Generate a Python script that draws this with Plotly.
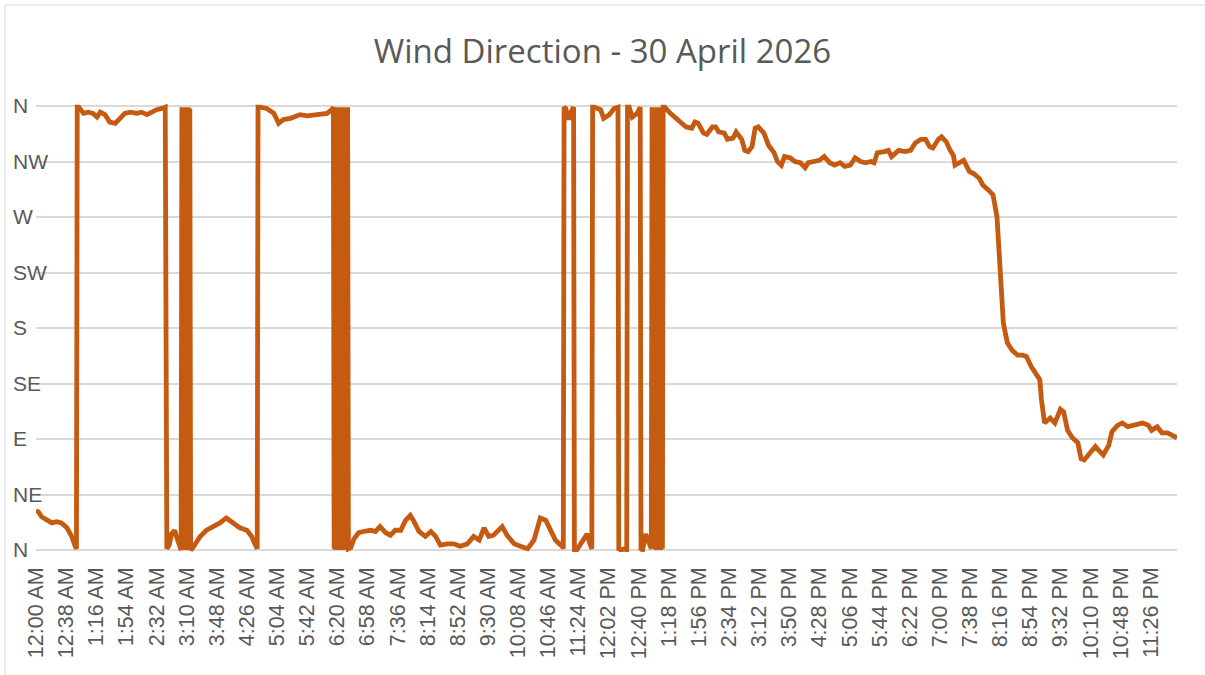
import plotly.graph_objects as go

# Time of each reading, minutes after midnight (30 April 2026)
minute_of_day = [
    0, 3, 7, 10, 14, 20, 26, 32, 39, 45, 49, 51,
    52, 54, 60, 66, 72, 77, 81, 87, 93, 100, 106, 112, 119, 127, 133, 140, 146, 152, 159, 163,
    165, 168, 171, 175, 178, 181, 183,
    184, 185, 186, 187, 188, 189, 190, 191, 192, 193, 194, 195,
    198, 201, 207, 215, 224, 232, 240, 249, 257, 266, 272, 276, 279,
    280, 283, 291, 300, 306, 312, 321, 333, 342, 354, 367, 373, 375,
    376, 377, 378, 379, 380, 381, 382, 383, 384, 385, 386, 387, 388, 389, 390, 391, 392, 393, 394,
    397, 401, 407, 413, 422, 428, 434, 441, 447, 453, 460, 466, 472, 476, 483, 491, 498, 504,
    510, 519, 527, 535, 544, 552, 559, 565, 571, 577, 588, 594, 603, 611, 620, 628, 636, 643,
    649, 655, 660, 664, 665,
    666, 668, 672, 676, 678, 679, 682, 689, 695, 698, 701,
    702, 704, 712, 716, 723, 729, 734, 735, 738, 742, 745,
    746, 748, 752, 758, 762, 763, 765, 769, 773, 776,
    777, 778, 779, 780, 781, 782, 783, 784, 785, 786, 787, 788, 789, 790, 791,
    793, 800, 807, 814, 820, 827, 831, 835, 842, 846, 853, 857, 861, 868, 872, 879, 883, 890,
    894, 898, 903, 907, 911, 918, 924, 931, 935, 940, 944, 951, 957, 964, 970, 974, 981, 988,
    994, 1001, 1007, 1014, 1020, 1027, 1033, 1040, 1046, 1053, 1057, 1061, 1070, 1075, 1079,
    1088, 1096, 1103, 1109, 1116, 1122, 1127, 1131, 1138, 1142, 1148, 1153, 1157, 1159, 1166,
    1170, 1177, 1183, 1190, 1194, 1201, 1207, 1212, 1214, 1216, 1218, 1220, 1225, 1231, 1238,
    1244, 1249, 1255, 1262, 1266, 1268, 1270, 1272, 1279, 1285, 1292, 1296, 1301, 1307, 1314,
    1318, 1322, 1329, 1336, 1340, 1346, 1353, 1357, 1364, 1370, 1377, 1383, 1390, 1396, 1403,
    1407, 1414, 1420, 1427, 1433, 1437, 1439,
]

# Wind direction in degrees (0 = N, 90 = E, 180 = S, 270 = W, 360 = N)
direction_deg = [
    32, 31, 27, 26, 24, 22, 23, 22, 18, 11, 4, 1,
    359, 359, 354, 355, 354, 351, 355, 353, 347, 346, 350, 354, 355, 354, 355, 353, 355, 357, 358, 359,
    1, 4, 13, 16, 9, 2, 0,
    359, 1, 358, 2, 359, 0, 357, 1, 359, 2, 358, 0,
    2, 5, 11, 16, 19, 22, 26, 22, 18, 16, 11, 5, 1,
    359, 359, 358, 354, 346, 349, 350, 353, 352, 353, 354, 357, 359,
    1, 359, 0, 358, 2, 359, 1, 357, 0, 359, 2, 358, 1, 359, 0, 358, 1, 359, 1,
    2, 9, 14, 15, 16, 15, 19, 14, 12, 16, 16, 24, 28, 24, 15, 11, 15, 11,
    4, 5, 5, 3, 5, 11, 8, 18, 11, 12, 19, 12, 5, 3, 1, 8, 26, 24,
    15, 8, 5, 3, 1,
    359, 358, 349, 357, 359, 0, 0, 7, 13, 6, 1,
    359, 359, 357, 350, 353, 358, 359, 1, 0, 1, 0,
    359, 359, 351, 354, 359, 1, 0, 13, 5, 1,
    359, 1, 358, 2, 359, 0, 357, 1, 359, 2, 358, 0, 359, 1, 359,
    359, 354, 350, 347, 343, 342, 347, 346, 338, 337, 343, 343, 339, 338, 333, 334, 339, 333,
    324, 323, 327, 342, 343, 338, 328, 322, 315, 312, 319, 318, 315, 314, 310, 314, 315, 316,
    319, 314, 312, 314, 311, 312, 318, 315, 314, 315, 314, 322, 323, 324, 319,
    324, 323, 324, 330, 333, 333, 327, 326, 333, 335, 331, 324, 320, 312, 315,
    316, 307, 305, 301, 296, 292, 288, 270, 251, 230, 211, 184, 168, 162, 158,
    158, 157, 149, 142, 138, 122, 111, 103, 107, 103, 114, 112, 97, 91, 87,
    74, 73, 78, 84, 81, 77, 85, 96, 101, 103, 100, 101, 103, 103, 101,
    97, 100, 95, 95, 93, 91, 91,
]

# Axis ticks
x_tick_minutes = [i * 38 for i in range(38)]
x_tick_labels = [
    "12:00 AM", "12:38 AM", "1:16 AM", "1:54 AM", "2:32 AM", "3:10 AM", "3:48 AM",
    "4:26 AM", "5:04 AM", "5:42 AM", "6:20 AM", "6:58 AM", "7:36 AM", "8:14 AM",
    "8:52 AM", "9:30 AM", "10:08 AM", "10:46 AM", "11:24 AM", "12:02 PM", "12:40 PM",
    "1:18 PM", "1:56 PM", "2:34 PM", "3:12 PM", "3:50 PM", "4:28 PM", "5:06 PM",
    "5:44 PM", "6:22 PM", "7:00 PM", "7:38 PM", "8:16 PM", "8:54 PM", "9:32 PM",
    "10:10 PM", "10:48 PM", "11:26 PM",
]
y_tick_degrees = [0, 45, 90, 135, 180, 225, 270, 315, 360]
y_tick_labels = ["N", "NE", "E", "SE", "S", "SW", "W", "NW", "N"]

W, H = 1205, 675
ML, MR, MT, MB = 36, 28, 104, 123
TEXT = "#595959"
GRID = "#D9D9D9"
Y_PAD = 1.62  # small padding so the edge gridlines (N) are drawn

fig = go.Figure(
    go.Scatter(
        x=minute_of_day,
        y=direction_deg,
        mode="lines",
        line=dict(color="#C55A11", width=4.8),
        hoverinfo="x+y",
    )
)

pw = W - ML - MR
ph = H - MT - MB
fig.add_shape(
    type="rect", xref="paper", yref="paper",
    x0=(5 - ML) / pw, x1=(W + 20 - ML) / pw,
    y0=(MT + ph - (H + 20)) / ph, y1=(MT + ph - 5) / ph,
    line=dict(color=GRID, width=1), fillcolor="rgba(0,0,0,0)", layer="below",
)

fig.update_layout(
    width=W, height=H,
    margin=dict(l=ML, r=MR, t=MT, b=MB, autoexpand=False),
    paper_bgcolor="white", plot_bgcolor="white",
    showlegend=False,
    title=dict(
        text="Wind Direction - 30 April 2026",
        x=0.5, xref="container", xanchor="center",
        y=1 - 51 / H, yref="container", yanchor="middle",
        font=dict(family="Open Sans", size=33, color=TEXT),
    ),
    xaxis=dict(
        range=[0, 1439],
        tickmode="array", tickvals=x_tick_minutes, ticktext=x_tick_labels,
        tickangle=-90, showgrid=False, zeroline=False, showline=False,
        ticks="", ticklabelstandoff=10, ticklabeloverflow="allow", automargin=False,
        tickfont=dict(family="Liberation Sans", size=21.5, color=TEXT),
    ),
    yaxis=dict(
        range=[-Y_PAD, 360 + Y_PAD],
        tickmode="array", tickvals=y_tick_degrees, ticktext=y_tick_labels,
        showgrid=True, gridcolor=GRID, gridwidth=1.5,
        zeroline=False, showline=False, ticks="",
        ticklabelposition="inside", ticklabelstandoff=-26,
        ticklabeloverflow="allow", automargin=False,
        tickfont=dict(family="Liberation Sans", size=21, color=TEXT),
    ),
)

fig.write_html(
    "out.html",
    config={"displayModeBar": False},
    post_script="document.body.style.margin='0px';",
)
